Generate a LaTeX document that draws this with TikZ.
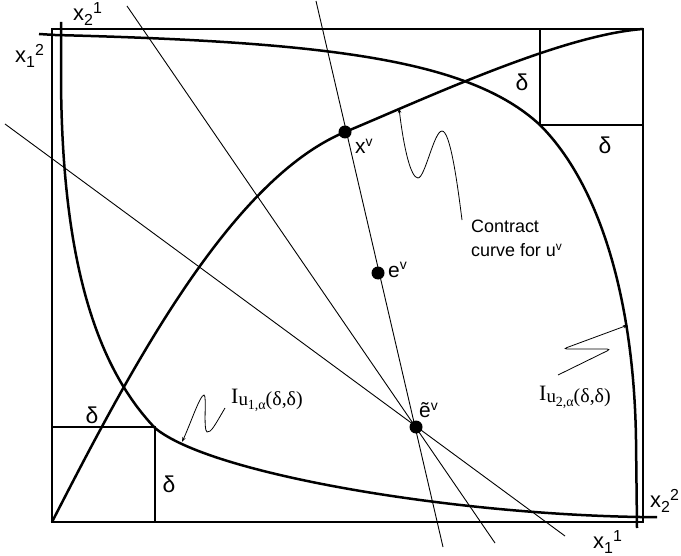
\documentclass[tikz,border=0pt]{standalone}
\usepackage{fontspec}
\setmainfont{Liberation Sans}
\newfontfamily\tms{Liberation Serif}
\usetikzlibrary{arrows.meta}
\newcommand{\axl}[2]{\fontsize{22}{22}\selectfont x\raisebox{-5bp}{\fontsize{16}{16}\selectfont #1}\raisebox{7bp}{\fontsize{16}{16}\selectfont #2}}
\newcommand{\supv}[1]{\fontsize{21}{21}\selectfont #1\raisebox{7bp}{\fontsize{14}{14}\selectfont v}}
\newcommand{\Ilab}[1]{{\tms\fontsize{22}{22}\selectfont I\raisebox{-2bp}{\fontsize{19}{19}\selectfont u}\raisebox{-6bp}{\fontsize{14}{14}\selectfont #1,α}\raisebox{-2bp}{\fontsize{20}{20}\selectfont (δ,δ)}}}
\begin{document}
\begin{tikzpicture}[x=1bp,y=-1bp,
  boxline/.style={line width=2.5bp},
  curveline/.style={line width=2.5bp},
  deltabox/.style={line width=2bp},
  thinline/.style={line width=0.9bp},
  pointer/.style={line width=0.8bp,-{Stealth[length=5bp,width=3.5bp]}},
  dot/.style={circle,fill=black,inner sep=0pt,minimum size=13bp},
  lab/.style={inner sep=0pt,anchor=base west},
  dlab/.style={inner sep=0pt,font=\fontsize{23}{23}\selectfont}]
\useasboundingbox (0,0) rectangle (681,556);
% main box
\coordinate (O1) at (52,522);
\coordinate (O2) at (643,29);
\draw[boxline] (52,29) rectangle (643,522);
% delta boxes
\draw[deltabox] (540,29) rectangle (643,125);
\draw[deltabox] (52,427) rectangle (155,522);
% points
\node[dot] (xv) at (345,132) {};
\node[dot] (ev) at (378,273) {};
\node[dot] (etv) at (416,427) {};
% thin lines
\coordinate (l1a) at (316,1);
\coordinate (l1b) at (443,547);
\coordinate (l2a) at (127,6);
\coordinate (l2b) at (495,543);
\coordinate (l3a) at (5,124);
\coordinate (l3b) at (565,536);
\draw[thinline] (l1a) -- (l1b);
\draw[thinline] (l2a) -- (l2b);
\draw[thinline] (l3a) -- (l3b);
% contract curve
\draw[curveline] (O1) .. controls (130,370) and (230,180) .. (xv.center)
  .. controls (420,101) and (560,35) .. (O2);
% indifference curve I_u1
\coordinate (a1) at (61,22);
\coordinate (a2) at (61,80);
\coordinate (a3) at (155,428);
\coordinate (a4) at (640,517);
\coordinate (a5) at (657,517);
\draw[curveline] (a1) -- (a2) .. controls (62,250) and (92,362) .. (a3)
  .. controls (210,474) and (450,514) .. (a4) -- (a5);
% indifference curve I_u2
\coordinate (b1) at (39,34);
\coordinate (b2) at (55,35);
\coordinate (b3) at (540,125);
\coordinate (b4) at (636,440);
\coordinate (b5) at (637,528);
\draw[curveline] (b1) -- (b2) .. controls (330,42) and (470,60) .. (b3)
  .. controls (600,185) and (634,300) .. (b4) -- (b5);
% axis labels
\node[lab] (x21) at (73,21) {\axl{2}{1}};
\node[lab] (x12) at (15,63) {\axl{1}{2}};
\node[lab] (x22) at (650,507) {\axl{2}{2}};
\node[lab] (x11) at (593,548) {\axl{1}{1}};
% delta labels
\node[dlab] (d1) at (522,82) {δ};
\node[dlab] (d2) at (605,145) {δ};
\node[dlab] (d3) at (92,415) {δ};
\node[dlab] (d4) at (169,484) {δ};
% point labels
\node[lab] (xvl) at (355,154) {\supv{x}};
\node[lab] (evl) at (388,277) {\supv{e}};
\node[lab] (etvl) at (419,417) {\supv{ẽ}};
% contract curve label
\node[lab,font=\fontsize{18}{18}\selectfont] (cc1) at (471,233) {Contract};
\node[lab,font=\fontsize{18}{18}\selectfont] (cc2) at (471,257) {curve for u\raisebox{6bp}{\fontsize{12}{12}\selectfont v}};
\coordinate (ccA) at (462,220);
\coordinate (ccB) at (399,108);
\draw[pointer] (ccA) .. controls (457,180) and (450,131) .. (442,131)
  .. controls (434,131) and (425,178) .. (418,178)
  .. controls (411,178) and (404,150) .. (ccB);
% I labels
\node[lab] (I1) at (231,403) {\Ilab{1}};
\node[lab] (I2) at (539,400) {\Ilab{2}};
\coordinate (i1A) at (225,408);
\coordinate (i1B) at (182,442);
\draw[pointer] (i1A) .. controls (215,425) and (211,433) .. (207,432)
  .. controls (203,430) and (207,395) .. (204,395)
  .. controls (200,395) and (190,425) .. (i1B);
\coordinate (i2A) at (558,375);
\coordinate (i2B) at (628,325);
\draw[pointer,rounded corners=4bp] (i2A) -- (611,349) -- (563,349) -- (i2B);
\end{tikzpicture}
\end{document}
